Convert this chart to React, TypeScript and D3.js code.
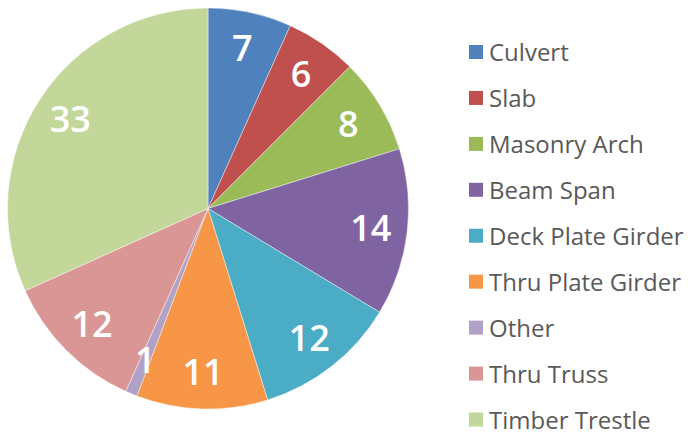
import React from "react";
import * as d3 from "d3";

const categories = ["Culvert", "Slab", "Masonry Arch", "Beam Span", "Deck Plate Girder", "Thru Plate Girder", "Other", "Thru Truss", "Timber Trestle"];
const values = [7, 6, 8, 14, 12, 11, 1, 12, 33];
const colors = ["#4F81BD", "#C0504D", "#9BBB59", "#8064A2", "#4BACC6", "#F79646", "#B2A1C7", "#D99694", "#C4D79B"];

const W = 688, H = 434;
const cx = 208, cy = 208.5, R = 200.5;

export default function App() {
  const pie = d3.pie<number>().sort(null).value((d) => d)(values);
  const arc = d3.arc<d3.PieArcDatum<number>>().innerRadius(0).outerRadius(R);
  const labelArc = d3.arc<d3.PieArcDatum<number>>().innerRadius(164 * 2 - R).outerRadius(R);
  const legendY = d3.scalePoint<string>().domain(categories).range([52.5, 420]);
  return (
    <svg width={W} height={H} style={{ position: "absolute", left: 0, top: 0, background: "#fff" }}>
      <g transform={`translate(${cx},${cy})`}>
        {pie.map((p, i) => (
          <path key={i} d={arc(p) || ""} fill={colors[i]} stroke="#fff" strokeWidth={0.6} strokeOpacity={0.7} />
        ))}
        {pie.map((p, i) => {
          const [x, y] = labelArc.centroid(p);
          return (
            <text key={i} x={x} y={y} dy="0.36em" textAnchor="middle" fill="#fff" fontFamily="Open Sans, sans-serif" fontWeight={600} fontSize={36}>
              {values[i]}
            </text>
          );
        })}
      </g>
      {categories.map((c, i) => (
        <g key={c} transform={`translate(469,${legendY(c)})`}>
          <rect x={0} y={-7.5} width={14} height={14} fill={colors[i]} />
          <text x={20} y={0} dy="0.36em" fill="#595959" fontFamily="Open Sans, sans-serif" fontSize={24}>
            {c}
          </text>
        </g>
      ))}
    </svg>
  );
}
